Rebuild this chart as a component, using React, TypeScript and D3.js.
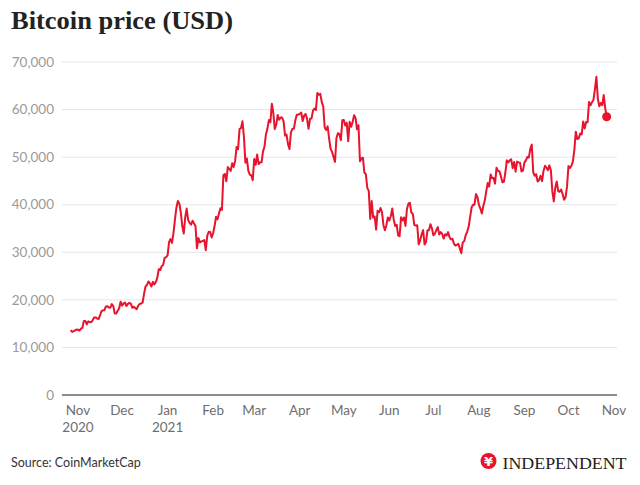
import React from "react";
import * as d3 from "d3";

// Daily closing prices (USD), grouped by month
const monthStarts = [
  "2020-10-27", "2020-11-01", "2020-12-01", "2021-01-01", "2021-02-01", "2021-03-01", "2021-04-01",
  "2021-05-01", "2021-06-01", "2021-07-01", "2021-08-01", "2021-09-01", "2021-10-01",
];
const oct2020 = [13654, 13271, 13437, 13546, 13781];
const nov2020 = [13737, 13550, 13950, 14133, 15579, 15565, 14833, 15479, 15332, 15290, 15701, 16276, 16317, 16068, 15955, 16716, 17645, 17804, 17817, 18621, 18642, 18370, 18364, 19107, 18732, 17150, 17108, 17718, 18177, 19625];
const dec2020 = [18802, 19201, 19445, 18699, 19154, 19345, 19191, 18321, 18553, 18264, 18058, 18803, 19142, 19246, 19417, 21310, 22806, 23137, 23869, 23477, 22803, 23783, 23241, 23735, 24664, 26437, 26272, 27084, 27362, 28841, 29002];
const jan2021 = [29374, 32127, 32782, 31971, 33992, 36824, 39371, 40797, 40254, 38356, 35566, 33922, 37316, 39187, 36825, 36178, 35792, 36630, 36069, 35548, 30825, 33006, 32068, 32289, 32366, 32569, 30433, 33467, 34317, 34269, 33115];
const feb2021 = [33993, 35510, 37472, 36926, 38144, 39266, 38903, 46196, 46481, 44918, 47910, 47505, 47106, 48717, 47945, 49199, 52149, 51679, 55889, 56100, 57539, 54208, 48825, 49705, 47093, 46339, 46188, 45137];
const mar2021 = [49631, 48378, 50538, 48562, 48927, 48912, 51206, 52246, 54824, 56008, 57805, 57332, 61243, 59302, 55907, 56804, 58870, 57858, 58346, 58313, 57524, 54529, 54738, 52775, 51704, 55137, 55974, 55948, 57751, 58918, 58918];
const apr2021 = [59095, 59384, 57604, 58760, 59058, 58020, 55948, 58048, 58103, 59775, 60204, 59893, 63504, 63110, 63315, 61572, 60684, 56216, 55724, 56474, 53907, 51763, 51094, 50051, 49004, 54022, 55033, 54824, 53556, 57751];
const may2021 = [57829, 56632, 57200, 53333, 57424, 56396, 57356, 58804, 58233, 55859, 56704, 49150, 49716, 49880, 46760, 46457, 43538, 42910, 37002, 40783, 37304, 37536, 34770, 38705, 38403, 39295, 38436, 35697, 34617, 35678, 37333];
const jun2021 = [36684, 37575, 39188, 36851, 35520, 35797, 33552, 33380, 37389, 36703, 37313, 35551, 39098, 40218, 40407, 38348, 38053, 35787, 35615, 35698, 31677, 32506, 33723, 34662, 31637, 32186, 34650, 34649, 35911, 35040];
const jul2021 = [33573, 33897, 34668, 35287, 33746, 34235, 33855, 32877, 33798, 33520, 34240, 33155, 32702, 32822, 31780, 31421, 31533, 31796, 30817, 29807, 32110, 32314, 33581, 34292, 35350, 37337, 39406, 39995, 40008, 42236, 41626];
const aug2021 = [39974, 39201, 38152, 39747, 40869, 42816, 44555, 43798, 46365, 45585, 45593, 44429, 47793, 47096, 47047, 46004, 44695, 44802, 46717, 49339, 48905, 49322, 49546, 47706, 48960, 46942, 49058, 48897, 48807, 46991, 47166];
const sep2021 = [48847, 49327, 50025, 49944, 51753, 52633, 46811, 46091, 46391, 44883, 45201, 46063, 44963, 47092, 48177, 47783, 47267, 48278, 47260, 42844, 40694, 43574, 44896, 42840, 42717, 43208, 42236, 41035, 41564, 43791];
const oct2021 = [48116, 47711, 48200, 49112, 51515, 55361, 53806, 53967, 54968, 54772, 57485, 56041, 57402, 57321, 61593, 60892, 61554, 62026, 64262, 66900, 62210, 60693, 61393, 60931, 63039, 60364, 58483];

const monthValues = [oct2020, nov2020, dec2020, jan2021, feb2021, mar2021, apr2021, may2021, jun2021, jul2021, aug2021, sep2021, oct2021];

const yTicks = [0, 10000, 20000, 30000, 40000, 50000, 60000, 70000];
const xTickDates = [
  "2020-11-01", "2020-12-01", "2021-01-01", "2021-02-01", "2021-03-01", "2021-04-01", "2021-05-01",
  "2021-06-01", "2021-07-01", "2021-08-01", "2021-09-01", "2021-10-01", "2021-11-01",
];
const xTickLabels = ["Nov", "Dec", "Jan", "Feb", "Mar", "Apr", "May", "Jun", "Jul", "Aug", "Sep", "Oct", "Nov"];
const xTickYears = ["2020", "", "2021", "", "", "", "", "", "", "", "", "", ""];

const title = "Bitcoin price (USD)";
const source = "Source: CoinMarketCap";

type Pt = { date: Date; value: number };
const data: Pt[] = [];
monthValues.forEach((arr, i) => {
  const start = new Date(monthStarts[i] + "T00:00:00Z");
  arr.forEach((v, j) => {
    data.push({ date: d3.utcDay.offset(start, j), value: v });
  });
});

export default function App() {
  const W = 640, H = 485;
  const gridLeft = 62, gridRight = 617;
  const x = d3.scaleUtc()
    .domain([new Date("2020-11-01T00:00:00Z"), new Date("2021-11-01T00:00:00Z")])
    .range([78, 614]);
  const y = d3.scaleLinear().domain([0, 70000]).range([395, 62]);
  const line = d3.line<Pt>().x(d => x(d.date)).y(d => y(d.value)).curve(d3.curveLinear);
  const last = data[data.length - 1];
  const fmt = d3.format(",");
  const red = "#e8132d";
  const sans = "Lato, 'Open Sans', sans-serif";

  return (
    <svg width={W} height={H} style={{ position: "absolute", left: 0, top: 0, background: "#fff" }}>
      <rect x={0} y={0} width={W} height={H} fill="#fff" />
      <text x={11} y={29} fontFamily="'Liberation Serif', 'DejaVu Serif', serif" fontWeight="bold" fontSize={26} fill="#222"
        textLength={222} lengthAdjust="spacingAndGlyphs">
        {title}
      </text>
      {yTicks.map(t => (
        <g key={t}>
          {t !== 0 && (
            <line x1={gridLeft} x2={gridRight} y1={y(t)} y2={y(t)} stroke="#e6e6e6" strokeWidth={1} />
          )}
          <text x={54} y={y(t)} dy="0.35em" textAnchor="end" fontFamily={sans} fontSize={13.5} fill="#9a9a9a">
            {fmt(t)}
          </text>
        </g>
      ))}
      <line x1={gridLeft} x2={gridRight} y1={y(0)} y2={y(0)} stroke="#666" strokeWidth={1.5} />
      {xTickDates.map((d, i) => {
        const xx = x(new Date(d + "T00:00:00Z"));
        return (
          <g key={d}>
            <text x={xx} y={415} textAnchor="middle" fontFamily={sans} fontSize={13.5} fill="#6e6e6e">
              {xTickLabels[i]}
            </text>
            {xTickYears[i] && (
              <text x={xx} y={432} textAnchor="middle" fontFamily={sans} fontSize={13.5} fill="#6e6e6e">
                {xTickYears[i]}
              </text>
            )}
          </g>
        );
      })}
      <path d={line(data) || ""} fill="none" stroke={red} strokeWidth={2} strokeLinejoin="round" />
      <circle cx={x(last.date)} cy={y(last.value)} r={4.5} fill={red} />
      <text x={11} y={467} fontFamily={sans} fontSize={12.5} fill="#333">
        {source}
      </text>
      <g>
        <circle cx={488.5} cy={461} r={8} fill={red} />
        <text x={488.5} y={466} textAnchor="middle" fontFamily="'DejaVu Sans', sans-serif" fontWeight="bold" fontSize={13} fill="#fff">¥</text>
        <text x={502.5} y={468.5} fontFamily="'Liberation Serif', serif" fontSize={17.5} fill="#222" textLength={124} lengthAdjust="spacingAndGlyphs">
          INDEPENDENT
        </text>
      </g>
    </svg>
  );
}
